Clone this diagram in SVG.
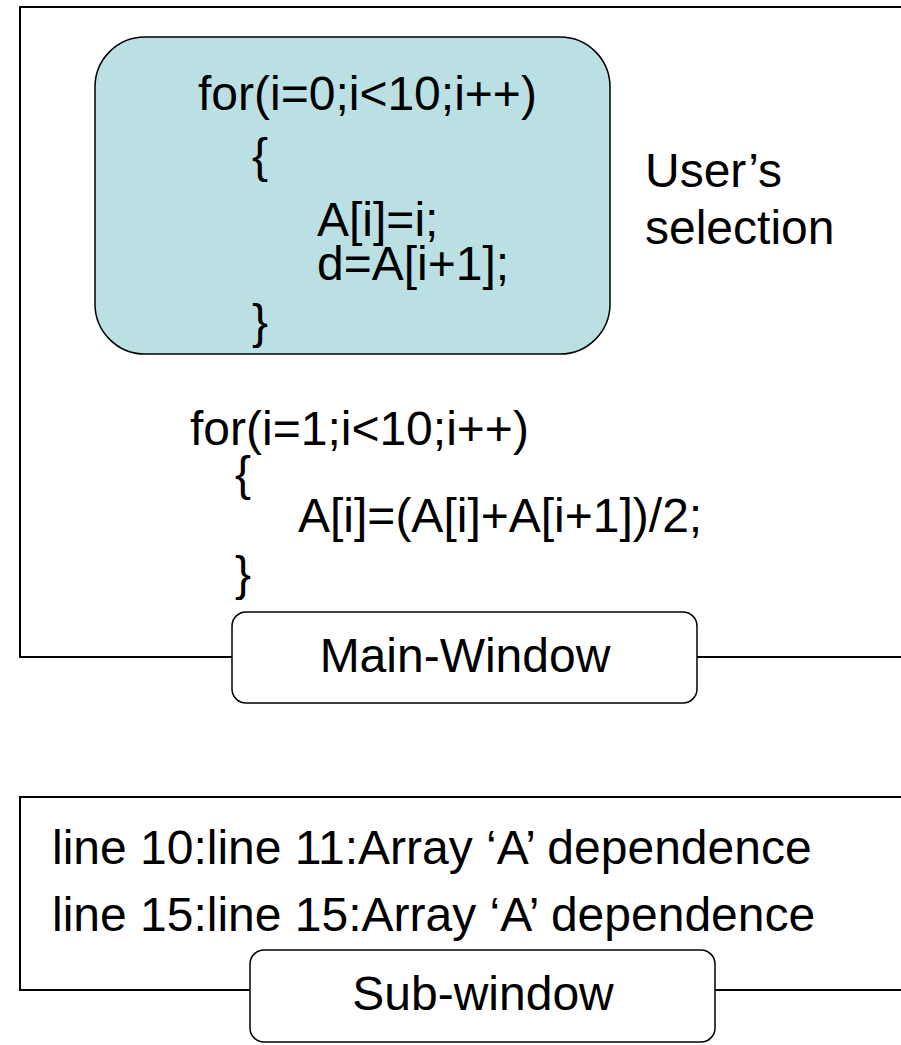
<svg xmlns="http://www.w3.org/2000/svg" width="901" height="1045" viewBox="0 0 901 1045">
  <style>
    .frame { fill: #ffffff; stroke: #000000; stroke-width: 2; }
    .tab { fill: #ffffff; stroke: #000000; stroke-width: 1.5; }
    .sel { fill: #bae0e4; stroke: #000000; stroke-width: 1.5; }
    text { font-family: "Liberation Sans", Arial, sans-serif; font-size: 48px; fill: #000000; }
    .mid { text-anchor: middle; }
  </style>
  <rect width="901" height="1045" fill="#ffffff"/>

  <!-- main window: open on the right, bottom edge broken by its tab -->
  <g id="main-window">
    <path class="frame" d="M 903 7 L 20 7 L 20 657 L 903 657"/>
    <g id="selection">
      <rect class="sel" x="95" y="37" width="515" height="317" rx="50" ry="50"/>
      <text x="198" y="110">for(i=0;i&lt;10;i++)</text>
      <text x="252" y="172">{</text>
      <text x="317" y="236">A[i]=i;</text>
      <text x="317" y="280">d=A[i+1];</text>
      <text x="252" y="338">}</text>
    </g>
    <g id="selection-label">
      <text x="645" y="187">User’s</text>
      <text x="645" y="244">selection</text>
    </g>
    <g id="second-loop">
      <text x="190" y="445">for(i=1;i&lt;10;i++)</text>
      <text x="235" y="490">{</text>
      <text x="298" y="532">A[i]=(A[i]+A[i+1])/2;</text>
      <text x="235" y="590">}</text>
    </g>
    <g id="main-window-tab">
      <rect class="tab" x="232" y="612" width="465" height="91" rx="14" ry="14"/>
      <text class="mid" x="465" y="672">Main-Window</text>
    </g>
  </g>

  <!-- sub window listing the dependences found -->
  <g id="sub-window">
    <path class="frame" d="M 903 797 L 20 797 L 20 990 L 903 990"/>
    <text x="52" y="864">line 10:line 11:Array ‘A’ dependence</text>
    <text x="52" y="931">line 15:line 15:Array ‘A’ dependence</text>
    <g id="sub-window-tab">
      <rect class="tab" x="250" y="950" width="465" height="92" rx="14" ry="14"/>
      <text class="mid" x="483" y="1010">Sub-window</text>
    </g>
  </g>

  <g id="connectors"/>
</svg>
